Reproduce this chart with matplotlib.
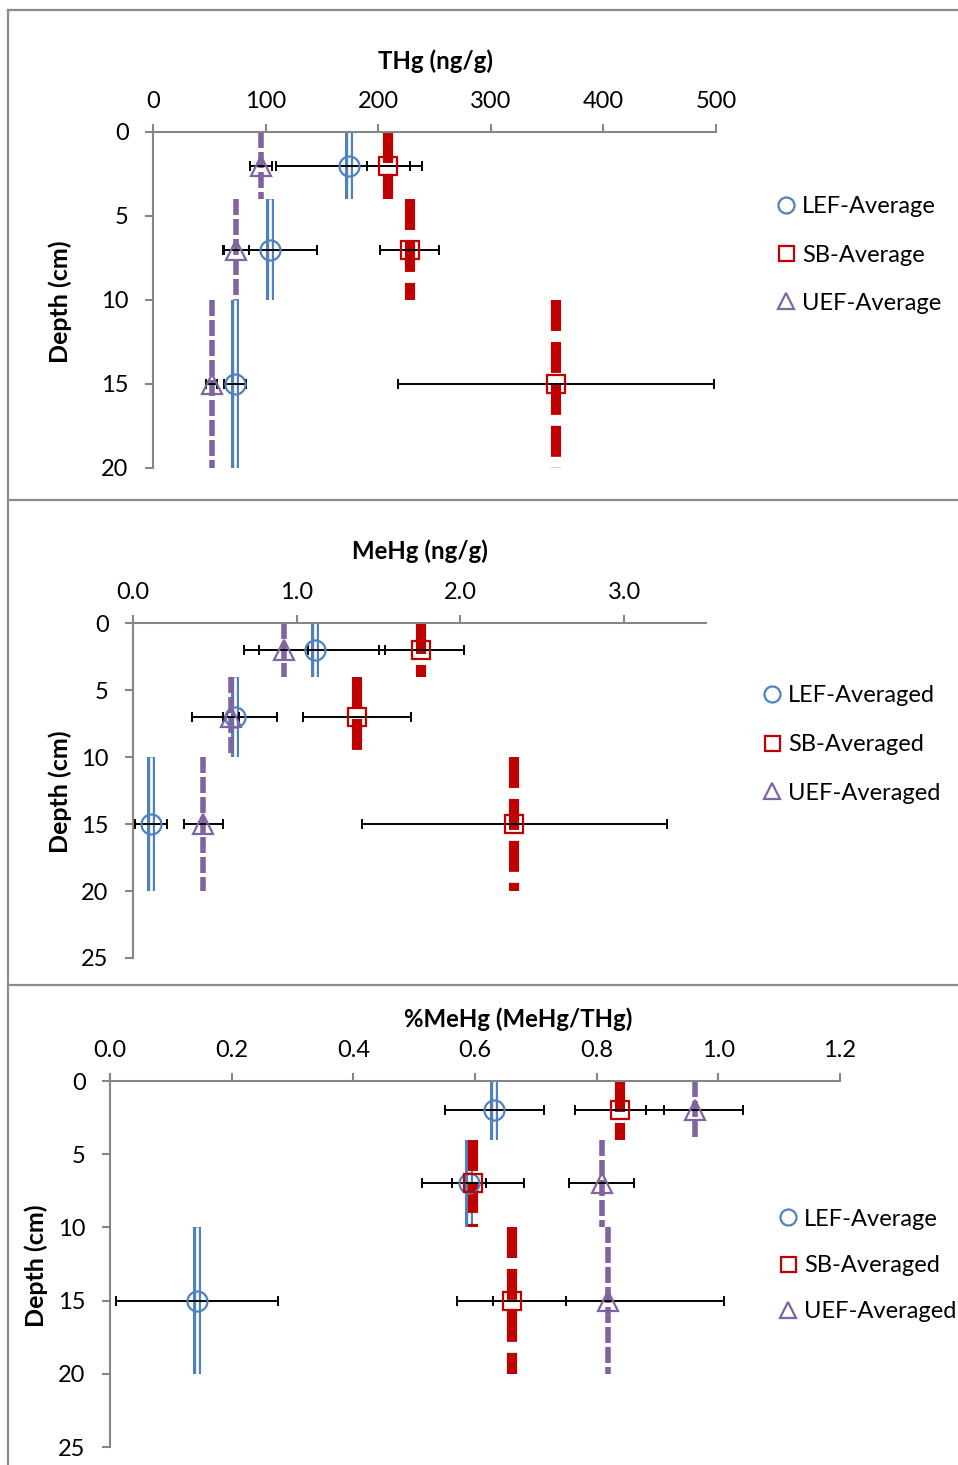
import matplotlib
matplotlib.use('Agg')
import matplotlib.pyplot as plt
from matplotlib.lines import Line2D

plt.rcParams['font.family'] = ['Lato', 'DejaVu Sans']
plt.rcParams['lines.scale_dashes'] = False

W, H = 958, 1465
DPI = 100

# ---------------- data ----------------
depth = [2, 7, 15]
depth_top = [0, 4, 10]
depth_bot = [4, 10, 20]

# Panel 1: THg (ng/g)
thg_lef = [174, 104, 73]
thg_lef_err = [65, 42, 10]
thg_sb = [209, 228, 358]
thg_sb_err = [19, 26, 140]
thg_uef = [96, 74, 52]
thg_uef_err = [10, 11, 4.5]

# Panel 2: MeHg (ng/g)
mehg_lef = [1.11, 0.62, 0.11]
mehg_lef_err = [0.43, 0.26, 0.10]
mehg_sb = [1.76, 1.37, 2.33]
mehg_sb_err = [0.26, 0.33, 0.93]
mehg_uef = [0.92, 0.60, 0.43]
mehg_uef_err = [0.15, 0.05, 0.12]

# Panel 3: %MeHg (MeHg/THg)
pct_lef = [0.632, 0.590, 0.143]
pct_lef_err = [0.082, 0.028, 0.133]
pct_sb = [0.838, 0.597, 0.660]
pct_sb_err = [0.073, 0.084, 0.089]
pct_uef = [0.961, 0.808, 0.819]
pct_uef_err = [0.080, 0.054, 0.190]

titles = ['THg (ng/g)', 'MeHg (ng/g)', '%MeHg (MeHg/THg)']
legend_labels = [
    ['LEF-Average', 'SB-Average', 'UEF-Average'],
    ['LEF-Averaged', 'SB-Averaged', 'UEF-Averaged'],
    ['LEF-Average', 'SB-Averaged', 'UEF-Averaged'],
]
xticks1 = [0, 100, 200, 300, 400, 500]
xticklabels1 = ['0', '100', '200', '300', '400', '500']
xticks2 = [0, 1, 2, 3]
xticklabels2 = ['0.0', '1.0', '2.0', '3.0']
xticks3 = [0, 0.2, 0.4, 0.6, 0.8, 1.0, 1.2]
xticklabels3 = ['0.0', '0.2', '0.4', '0.6', '0.8', '1.0', '1.2']
yticks1 = [0, 5, 10, 15, 20]
yticks23 = [0, 5, 10, 15, 20, 25]

BLUE = '#4F81BD'
RED = '#C00000'
PURPLE = '#8064A2'
GREY = '#868686'

fig = plt.figure(figsize=(W / DPI, H / DPI), dpi=DPI)


def px_rect(x0, y0, x1, y1):
    return [x0 / W, 1 - y1 / H, (x1 - x0) / W, (y1 - y0) / H]


def draw_panel(ax, lef, lef_err, sb, sb_err, uef, uef_err, labels,
               xlim, xticks, xticklabels, ylim, yticks, leg_xy, leg_space):
    # depth-interval lines
    ax.vlines(lef, depth_top, depth_bot, colors=BLUE, linewidth=5.8, zorder=2,
              capstyle='butt')
    ax.vlines(lef, depth_top, depth_bot, colors='white', linewidth=1.9, zorder=2.1,
              capstyle='butt')
    ax.vlines(sb, depth_top, depth_bot, colors=RED, linewidth=7.3, zorder=2.2,
              linestyles=[(0, (22.3, 7.9))], capstyle='butt')
    ax.vlines(uef, depth_top, depth_bot, colors=PURPLE, linewidth=4.0, zorder=2.3,
              linestyles=[(0, (11.5, 2.9))], capstyle='butt')
    # error bars
    for xs, es in ((lef, lef_err), (sb, sb_err), (uef, uef_err)):
        ax.errorbar(xs, depth, xerr=es, fmt='none', ecolor='black',
                    elinewidth=1.4, capsize=3.6, capthick=1.4, zorder=3)
    # markers
    ax.plot(lef, depth, ls='none', marker='o', ms=14.4, mfc='none', mec=BLUE,
            mew=1.6, zorder=4, label=labels[0])
    ax.plot(sb, depth, ls='none', marker='s', ms=13.5, mfc='none', mec=RED,
            mew=1.6, zorder=4, label=labels[1])
    ax.plot(uef, depth, ls='none', marker='^', ms=14.4, mfc='none', mec=PURPLE,
            mew=1.6, zorder=4, label=labels[2])

    ax.set_xlim(*xlim)
    ax.set_ylim(*ylim)
    ax.set_xticks(xticks)
    ax.set_xticklabels(xticklabels)
    ax.set_yticks(yticks)
    ax.set_yticklabels([str(v) for v in yticks])
    ax.xaxis.tick_top()
    for s in ('bottom', 'right'):
        ax.spines[s].set_visible(False)
    for s in ('top', 'left'):
        ax.spines[s].set_color(GREY)
        ax.spines[s].set_linewidth(1.5)
    ax.tick_params(axis='both', direction='out', length=5.5, width=1.5,
                   color=GREY, labelsize=17, labelcolor='black')
    ax.tick_params(axis='x', pad=9)
    ax.tick_params(axis='y', pad=12)
    ax.patch.set_alpha(0)

    ax.legend(loc='center left', bbox_to_anchor=leg_xy,
              bbox_transform=fig.transFigure, frameon=False, fontsize=17,
              handlelength=0.8, handletextpad=0.25, labelspacing=leg_space,
              borderpad=0, borderaxespad=0, markerscale=0.8)


ax1 = fig.add_axes(px_rect(153, 132, 716, 468))
draw_panel(ax1, thg_lef, thg_lef_err, thg_sb, thg_sb_err, thg_uef, thg_uef_err,
           legend_labels[0], (0, 500), xticks1, xticklabels1, (20, 0), yticks1,
           (777 / W, 1 - 255 / H), 1.15)

ax2 = fig.add_axes(px_rect(133, 623, 706, 958))
draw_panel(ax2, mehg_lef, mehg_lef_err, mehg_sb, mehg_sb_err, mehg_uef, mehg_uef_err,
           legend_labels[1], (0, 3.5), xticks2, xticklabels2, (25, 0), yticks23,
           (763 / W, 1 - 744.5 / H), 1.17)

ax3 = fig.add_axes(px_rect(110, 1081, 840, 1447))
draw_panel(ax3, pct_lef, pct_lef_err, pct_sb, pct_sb_err, pct_uef, pct_uef_err,
           legend_labels[2], (0, 1.2), xticks3, xticklabels3, (25, 0), yticks23,
           (779 / W, 1 - 1265.5 / H), 1.08)

# titles & axis labels
for (tx, ty), t in zip([(435, 61), (420, 551), (518, 1019)], titles):
    fig.text(tx / W, 1 - ty / H, t, ha='center', va='center', fontsize=17.3,
             fontweight='bold')
for (lx, ly) in [(60, 302), (60, 792), (36, 1266)]:
    fig.text(lx / W, 1 - ly / H, 'Depth (cm)', rotation=90, ha='center',
             va='center', fontsize=18, fontweight='bold')

# panel borders
border_kw = dict(color='#8C8C8C', linewidth=1.6, transform=fig.transFigure)
fig.add_artist(Line2D([8 / W, 8 / W], [0, 1 - 10 / H], **border_kw))
for yb in (10, 500, 985):
    fig.add_artist(Line2D([8 / W, 1], [1 - yb / H, 1 - yb / H], **border_kw))

fig.savefig('out.png', dpi=DPI)
